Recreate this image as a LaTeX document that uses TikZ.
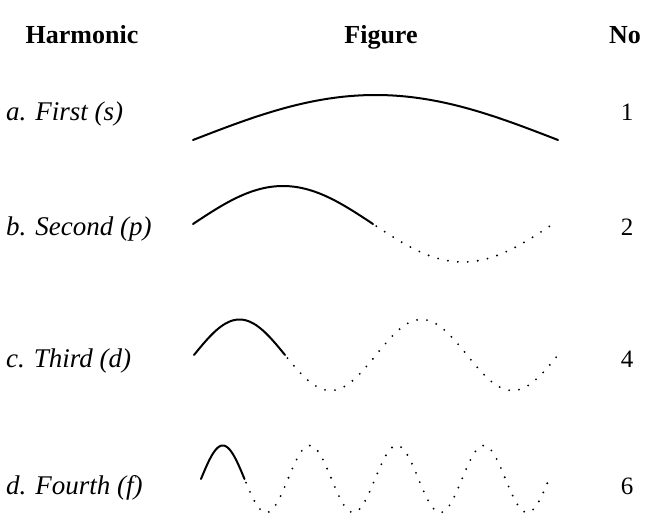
\documentclass[tikz,border=0pt]{standalone}
\usepackage{fontspec}
\setmainfont{Liberation Serif}

\begin{document}
\begin{tikzpicture}[
    x=1pt, y=-1pt,
    header/.style={font=\fontsize{26}{30}\selectfont\bfseries, anchor=base, inner sep=0pt},
    harmlabel/.style={font=\fontsize{27}{32}\selectfont\itshape, anchor=base west, inner sep=0pt},
    harmno/.style={font=\fontsize{25}{30}\selectfont, anchor=base, inner sep=0pt},
    solidwave/.style={line width=2pt, line cap=round},
    dotwave/.style={line width=2.1pt, line cap=round, dash pattern=on 0pt off 10pt, dash phase=6pt}
]
    \useasboundingbox (0,0) rectangle (645,518);

    \node [header] (harmhead) at (82,44) {Harmonic};
    \node [header] (fighead) at (381,44) {Figure};
    \node [header] (nohead) at (625,44) {No};

    \foreach \id/\txt/\no/\base in {a/{a. First (s)}/1/121, b/{b. Second (p)}/2/236,
                                    c/{c. Third (d)}/4/367, d/{d. Fourth (f)}/6/494} {
        \node [harmlabel] (lbl\id) at (6,\base) {\txt};
        \node [harmno] (no\id) at (627,\base) {\no};
    }

    % first harmonic, half a wave
    \draw [solidwave] plot [domain=0:180, samples=80] ({193+\x/180*365}, {140-45*sin(\x)});

    % the others: first half solid, rest dotted
    \foreach \xs/\hp/\base/\amp/\nh in {193/180/224/38/2, 194/91/355/35.5/4, 201/43.5/479/33.5/8} {
        \pgfmathsetmacro\dend{180*\nh}
        \draw [solidwave] plot [domain=0:180, samples=60] ({\xs+\x/180*\hp}, {\base-\amp*sin(\x)});
        \draw [dotwave] plot [domain=180:\dend, samples=240] ({\xs+\x/180*\hp}, {\base-\amp*sin(\x)});
    }

\end{tikzpicture}
\end{document}
